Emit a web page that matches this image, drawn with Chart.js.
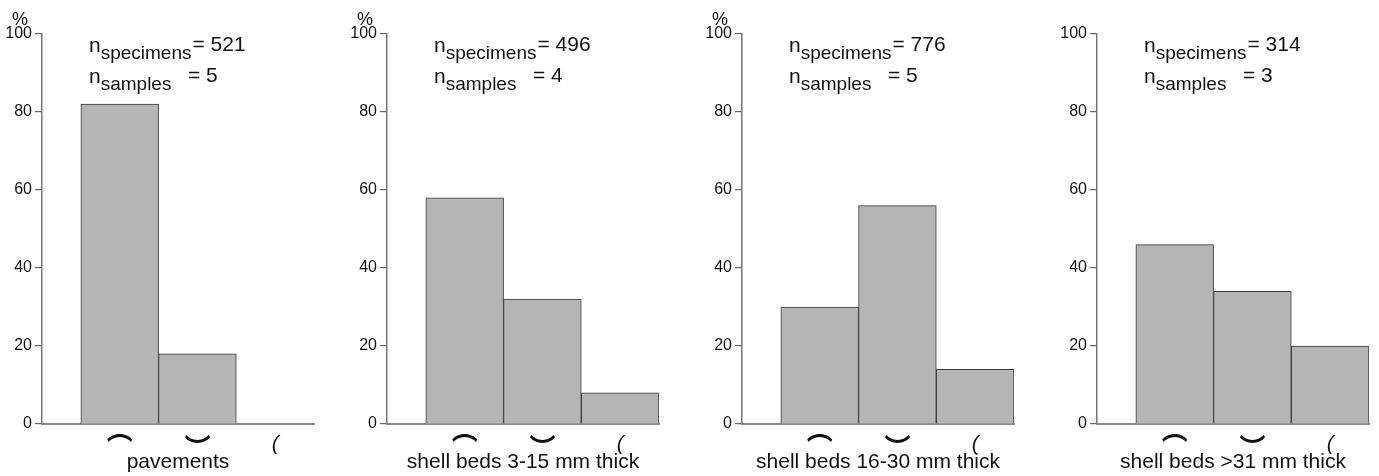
<!DOCTYPE html>
<html>
<head>
<meta charset="utf-8">
<script src="https://cdn.jsdelivr.net/npm/chart.js@4.4.0/dist/chart.umd.min.js"></script>
<style>
  body { margin: 0; background: #fff; width: 1379px; height: 476px; position: relative; overflow: hidden; }
  canvas { position: absolute; top: 0; }
</style>
</head>
<body>
<canvas id="c0" width="330" height="476" style="left:0px"></canvas>
<canvas id="c1" width="330" height="476" style="left:345px"></canvas>
<canvas id="c2" width="330" height="476" style="left:700px"></canvas>
<canvas id="c3" width="330" height="476" style="left:1055px"></canvas>
<script>
// shell orientation classes (x categories): convex up, concave up, edgewise
const orientations = ['\u2312', '\uFE36', '('];
const panelTitles = ['pavements', 'shell beds 3-15 mm thick', 'shell beds 16-30 mm thick', 'shell beds >31 mm thick'];

// percent of specimens per orientation
const pavements = [82, 18, 0];
const beds3to15 = [58, 32, 8];
const beds16to30 = [30, 56, 14];
const bedsOver31 = [46, 34, 20];

const nSpecimens = [521, 496, 776, 314];
const nSamples = [5, 4, 5, 3];
const yTicks = [0, 20, 40, 60, 80, 100];

const FONT = '"Liberation Sans", Arial, "DejaVu Sans", sans-serif';

// sample sizes and the % sign, drawn in the top padding
const notesPlugin = {
  id: 'notes',
  afterDraw(chart, args, opts) {
    const ctx = chart.ctx;
    const left = chart.chartArea.left;
    const x0 = left + 47;
    ctx.save();
    ctx.fillStyle = '#111';
    ctx.textBaseline = 'alphabetic';
    ctx.textAlign = 'left';

    ctx.font = '21px ' + FONT;
    ctx.fillText('n', x0, 52);
    const wn = ctx.measureText('n').width;
    ctx.font = '19px ' + FONT;
    ctx.fillText('specimens', x0 + wn, 59);
    const ws = ctx.measureText('specimens').width;
    ctx.font = '21px ' + FONT;
    ctx.fillText('= ' + opts.specimens, x0 + wn + ws + 1, 51);

    ctx.fillText('n', x0, 83);
    ctx.font = '19px ' + FONT;
    ctx.fillText('samples', x0 + wn, 90);
    ctx.font = '21px ' + FONT;
    ctx.fillText('= ' + opts.samples, x0 + 99, 82);

    if (opts.percent) {
      ctx.font = '18px ' + FONT;
      ctx.textAlign = 'center';
      ctx.fillText('%', left - 22, 25);
    }
    ctx.restore();
  }
};

function makePanel(id, values, idx) {
  const points = values.map((v, i) => ({ x: i + 1, y: v }));
  return new Chart(document.getElementById(id), {
    type: 'bar',
    data: {
      datasets: [{
        data: points,
        backgroundColor: '#b5b5b5',
        borderColor: '#3a3a3a',
        borderWidth: 1,
        barThickness: 'flex',
        barPercentage: 1,
        categoryPercentage: 1
      }]
    },
    options: {
      responsive: false,
      animation: false,
      layout: { padding: { top: 34, right: 16, left: 0, bottom: 0 } },
      plugins: {
        legend: { display: false },
        tooltip: { enabled: false },
        notes: { specimens: nSpecimens[idx], samples: nSamples[idx], percent: idx < 3 }
      },
      scales: {
        x: {
          type: 'linear',
          offset: false,
          min: 0,
          max: 3.5,
          afterBuildTicks: s => { s.ticks = orientations.map((o, i) => ({ value: i + 1 })); },
          afterFit: s => { s.height = 52; },
          grid: { display: false, offset: false },
          border: { display: true, color: '#8a8a8a', width: 2 },
          ticks: {
            autoSkip: false,
            maxRotation: 0,
            padding: 0,
            color: '#111',
            font: ctx => ctx.index === 2
              ? { family: FONT, size: 21, style: 'italic' }
              : { family: '"Noto Sans CJK JP", "Noto Sans CJK SC", sans-serif', size: 26, weight: 'bold' },
            callback: v => orientations[v - 1] || ''
          },
          title: {
            display: true,
            text: panelTitles[idx],
            color: '#111',
            font: { family: FONT, size: 21 },
            padding: { top: 0, bottom: 1 }
          }
        },
        y: {
          min: 0,
          max: 100,
          afterBuildTicks: s => { s.ticks = yTicks.map(v => ({ value: v })); },
          afterFit: s => { s.width = 42; },
          grid: { drawOnChartArea: false, tickLength: 7, color: '#666', lineWidth: 1.2 },
          border: { display: true, color: '#777', width: 1.5 },
          ticks: {
            padding: 3,
            color: '#111',
            font: { family: FONT, size: 16 }
          }
        }
      }
    },
    plugins: [notesPlugin]
  });
}

makePanel('c0', pavements, 0);
makePanel('c1', beds3to15, 1);
makePanel('c2', beds16to30, 2);
makePanel('c3', bedsOver31, 3);
</script>
</body>
</html>
